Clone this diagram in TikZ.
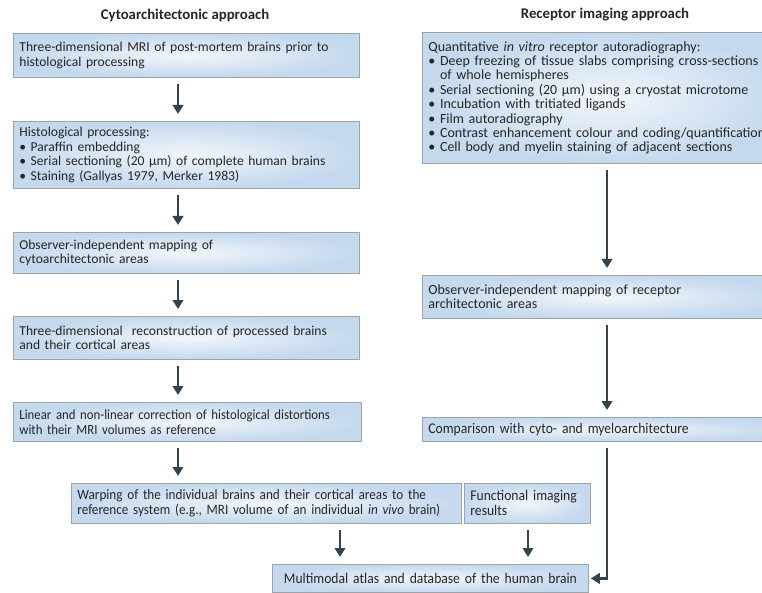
\documentclass[tikz,border=0pt]{standalone}
\usepackage{fontspec}
\setmainfont{Carlito}
\newfontfamily\condfont[FakeStretch=0.92]{Carlito}
\usetikzlibrary{arrows.meta,positioning,calc}
\definecolor{boxblue}{HTML}{C4D8EE}
\definecolor{boxcore}{HTML}{F2F6FB}
\definecolor{boxedge}{HTML}{9EA3A9}
\definecolor{arrowgrey}{HTML}{33444F}
\definecolor{textgrey}{HTML}{262626}

\begin{document}
\begin{tikzpicture}[x=1pt,y=-1pt,
   every node/.style={font=\fontsize{13.6}{14.6}\selectfont,text=textgrey},
   sec/.style={draw=boxedge,line width=0.8pt,rectangle,anchor=north west,
               inner color=boxcore,outer color=boxblue,
               align=left,inner xsep=6pt,inner ysep=2pt},
   wide/.style={sec,font=\fontsize{14}{14.4}\selectfont},
   narrow/.style={sec,font=\condfont\fontsize{14.8}{15}\selectfont},
   head/.style={font=\bfseries\fontsize{14.8}{16}\selectfont},
   arr/.style={-{Triangle[length=9pt,width=10.5pt]},line width=2.6pt,
               arrowgrey,shorten <=6pt,shorten >=7pt}
]
\useasboundingbox (0,0) rectangle (762,593);
\clip (0,0) rectangle (762,593);

% columns for the arrows
\coordinate (colL) at (178,0);
\coordinate (colW) at (340,0);
\coordinate (colF) at (528,0);
\coordinate (colR) at (607,0);

% Headings
\node[head] (TL) at (185,15) {Cytoarchitectonic approach};
\node[head] (TR) at (605,15) {Receptor imaging approach};

% Left column: cytoarchitecture
\node[sec,minimum width=346pt,minimum height=44pt,text width=334pt] (MRI) at (13,33)
   {Three-dimensional MRI of post-mortem brains prior to\\histological processing};
\node[sec,minimum width=346pt,minimum height=67pt,text width=334pt] (HIST) at (13,121)
   {Histological processing:\\
    \textbullet\ Paraffin embedding\\
    \textbullet\ Serial sectioning (20 µm) of complete human brains\\
    \textbullet\ Staining (Gallyas 1979, Merker 1983)};
\node[sec,minimum width=346pt,minimum height=41pt,text width=334pt] (CMAP) at (13,232)
   {Observer-independent mapping of\\cytoarchitectonic areas};
\node[sec,minimum width=346pt,minimum height=43pt,text width=334pt] (RECO) at (13,316)
   {Three-dimensional\ \ reconstruction of processed brains\\and their cortical areas};
\node[narrow,font=\condfont\fontsize{13.9}{14.8}\selectfont,
      minimum width=346pt,minimum height=39pt,text width=336pt] (CORR) at (13,402)
   {Linear and non-linear correction of histological distortions\\with their MRI volumes as reference};

\draw[arr] (MRI.south -| colL) -- (HIST.north -| colL);
\draw[arr] (HIST.south -| colL) -- (CMAP.north -| colL);
\draw[arr] (CMAP.south -| colL) -- (RECO.north -| colL);
\draw[arr] (RECO.south -| colL) -- (CORR.north -| colL);

% Right column: receptor architecture
\node[wide,minimum width=368pt,minimum height=131pt,text width=356pt] (AUTO) at (422,32)
   {Quantitative \textit{in vitro} receptor autoradiography:\\
    \textbullet\ Deep freezing of tissue slabs comprising cross-sections\\
    \phantom{\textbullet\ }of whole hemispheres\\
    \textbullet\ Serial sectioning (20 µm) using a cryostat microtome\\
    \textbullet\ Incubation with tritiated ligands\\
    \textbullet\ Film autoradiography\\
    \textbullet\ Contrast enhancement colour and coding/quantification\\
    \textbullet\ Cell body and myelin staining of adjacent sections};
\node[wide,minimum width=368pt,minimum height=43pt,text width=356pt] (RMAP) at (422,275)
   {Observer-independent mapping of receptor\\architectonic areas};
\node[narrow,minimum width=368pt,minimum height=24pt,text width=356pt] (COMP) at (422,417)
   {Comparison with cyto- and myeloarchitecture};

\draw[arr] (AUTO.south -| colR) -- (RMAP.north -| colR);
\draw[arr] (RMAP.south -| colR) -- (COMP.north -| colR);

% Bottom: warping and atlas
\node[narrow,font=\condfont\fontsize{14.3}{15}\selectfont,
      minimum width=384pt,minimum height=40pt,text width=378pt] (WARP) at (71,483)
   {Warping of the individual brains and their cortical areas to the\\
    reference system (e.g., MRI volume of an individual \textit{in vivo} brain)};
\node[narrow,minimum width=124pt,minimum height=40pt,text width=114pt] (FUNC) at (464,483)
   {Functional imaging\\results};
\node[narrow,minimum width=316pt,minimum height=28pt,text width=304pt,align=center] (ATLAS) at (272,564)
   {Multimodal atlas and database of the human brain};

\draw[arr] (CORR.south -| colL) -- (WARP.north -| colL);
\draw[arr] (WARP.south -| colW) -- (ATLAS.north -| colW);
\draw[arr] (FUNC.south -| colF) -- (ATLAS.north -| colF);
\draw[arr,shorten >=2pt] (COMP.south -| colR) |- (ATLAS.east);

\end{tikzpicture}
\end{document}
